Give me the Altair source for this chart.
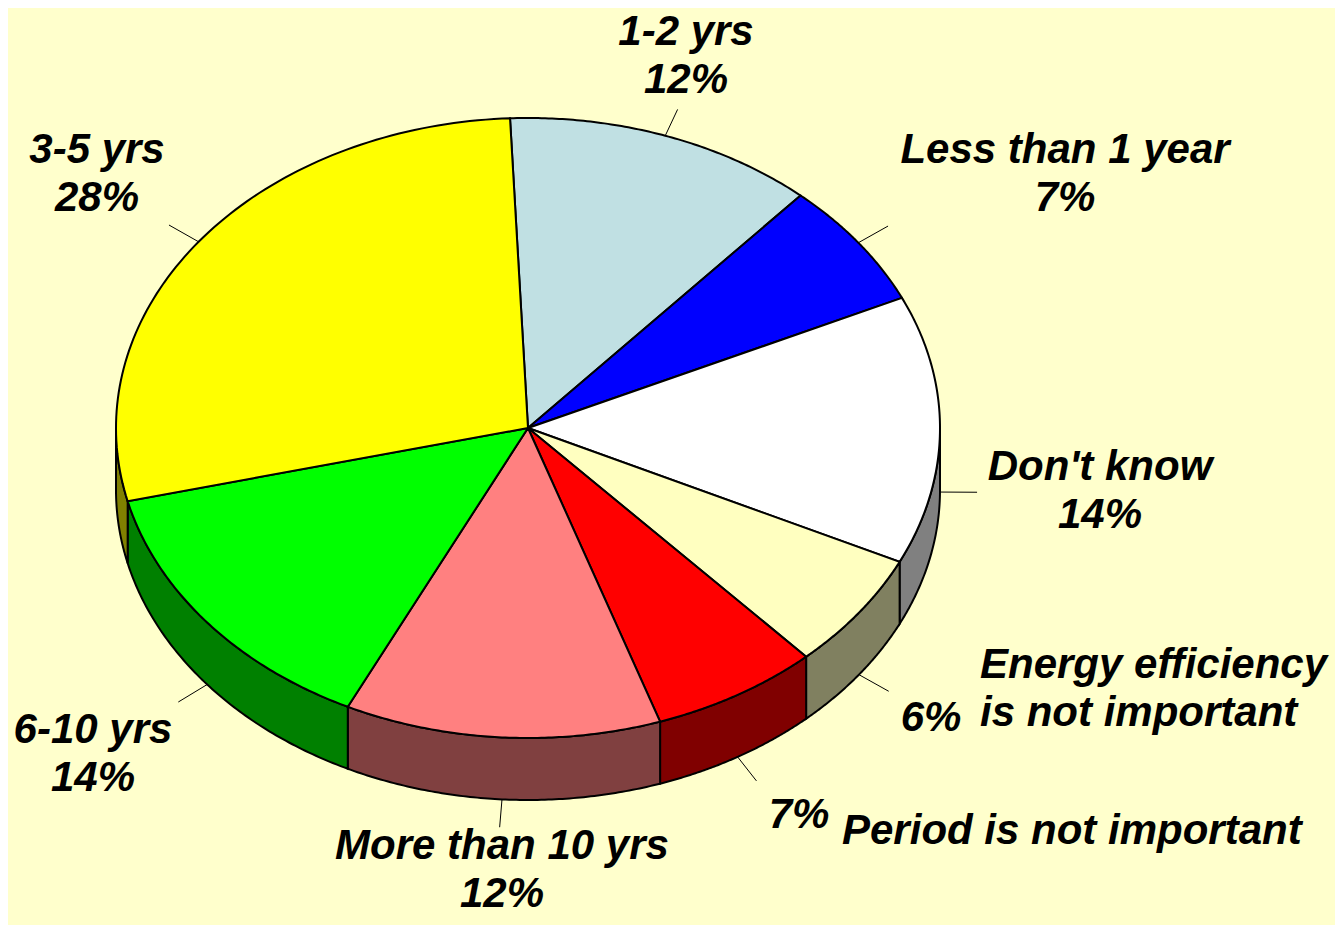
import altair as alt
import pandas as pd

# ---- data ----
labels = ["1-2 yrs", "Less than 1 year", "Don't know", "Energy efficiency is not important",
          "Period is not important", "More than 10 yrs", "6-10 yrs", "3-5 yrs"]
values = [12.2, 6.6, 14.0, 6.1, 6.6, 12.4, 14.0, 28.1]
top_colors = ["#C0E0E3", "#0000FF", "#FFFFFF", "#FFFFC0", "#FF0000", "#FF8080", "#00FF00", "#FFFF00"]
side_colors = ["#637273", "#000080", "#808080", "#808060", "#800000", "#804040", "#008000", "#808000"]

# ---- layout ----
W, H = 1327, 917
CX, CY, RX, RY, DEPTH = 520, 420, 412, 310, 62
START = -2.5
N = 90
FONT = "Liberation Sans"
FS = 42

df = pd.DataFrame({"order": list(range(len(labels))), "label": labels, "value": values,
                   "top": top_colors, "side": side_colors})

xs = alt.Scale(domain=[0, W], nice=False, zero=False)
ys = alt.Scale(domain=[0, H], nice=False, zero=False, reverse=True)

base = (alt.Chart(df)
        .transform_window(cum="sum(value)", frame=[None, 0], sort=[alt.SortField("order")])
        .transform_joinaggregate(total="sum(value)")
        .transform_calculate(t1=f"{START} + 360*(datum.cum - datum.value)/datum.total")
        .transform_calculate(t2=f"{START} + 360*datum.cum/datum.total"))

# side walls (front half only)
side = (base
        .transform_calculate(a="max(datum.t1, 90)")
        .transform_calculate(b="min(datum.t2, 270)")
        .transform_filter("datum.a < datum.b")
        .transform_calculate(idx=f"sequence(0, {2*N+2})")
        .transform_flatten(["idx"])
        .transform_calculate(k=f"datum.idx <= {N} ? datum.idx : {2*N+1} - datum.idx")
        .transform_calculate(ang=f"(datum.a + (datum.b - datum.a)*datum.k/{N})*PI/180")
        .transform_calculate(px=f"{CX} + {RX}*sin(datum.ang)")
        .transform_calculate(py=f"{CY} - {RY}*cos(datum.ang) + (datum.idx > {N} ? {DEPTH} : 0)")
        .mark_line(interpolate="linear-closed", filled=True, stroke="black", strokeWidth=2)
        .encode(x=alt.X("px:Q", scale=xs, axis=None),
                y=alt.Y("py:Q", scale=ys, axis=None),
                order="idx:Q", detail="label:N",
                fill=alt.Fill("side:N", scale=None)))

# top faces
top = (base
       .transform_calculate(idx=f"sequence(0, {N+2})")
       .transform_flatten(["idx"])
       .transform_calculate(ang=f"(datum.t1 + (datum.t2 - datum.t1)*(datum.idx - 1)/{N})*PI/180")
       .transform_calculate(px=f"datum.idx == 0 ? {CX} : {CX} + {RX}*sin(datum.ang)")
       .transform_calculate(py=f"datum.idx == 0 ? {CY} : {CY} - {RY}*cos(datum.ang)")
       .mark_line(interpolate="linear-closed", filled=True, stroke="black", strokeWidth=2)
       .encode(x=alt.X("px:Q", scale=xs, axis=None),
               y=alt.Y("py:Q", scale=ys, axis=None),
               order="idx:Q", detail="label:N",
               fill=alt.Fill("top:N", scale=None)))

# leader lines
lead = (base
        .transform_calculate(mid="(datum.t1 + datum.t2)/2*PI/180")
        .transform_calculate(front="cos(datum.mid) < 0 ? 1 : 0")
        .transform_calculate(ex=f"{RX}*sin(datum.mid)")
        .transform_calculate(ey=f"-{RY}*cos(datum.mid)")
        .transform_calculate(cyy=f"{CY} + datum.front*{DEPTH}")
        .transform_calculate(x1=f"{CX} + datum.ex")
        .transform_calculate(y1="datum.cyy + datum.ey")
        .transform_calculate(x2=f"{CX} + 1.09*datum.ex")
        .transform_calculate(y2="datum.cyy + 1.09*datum.ey")
        .mark_rule(color="black", strokeWidth=1)
        .encode(x=alt.X("x1:Q", scale=xs, axis=None),
                y=alt.Y("y1:Q", scale=ys, axis=None),
                x2="x2:Q", y2="y2:Q"))

# label texts
total = sum(values)
pct = {l: f"{round(100 * v / total)}%" for l, v in zip(labels, values)}
centered = {  # label: (x centre, first-line centre y)
    "1-2 yrs": (678, 24),
    "Less than 1 year": (1057, 142),
    "Don't know": (1092, 459),
    "More than 10 yrs": (494, 838),
    "6-10 yrs": (85, 722),
    "3-5 yrs": (89, 142),
}
rows = []
for l, (x, y) in centered.items():
    rows.append({"t": f"{l}\n{pct[l]}", "x": x, "y": y, "al": "center"})
rows.append({"t": "Energy efficiency\nis not important", "x": 972, "y": 657, "al": "left"})
rows.append({"t": pct["Energy efficiency is not important"], "x": 923, "y": 710, "al": "center"})
rows.append({"t": "Period is not important", "x": 834, "y": 823, "al": "left"})
rows.append({"t": pct["Period is not important"], "x": 791, "y": 807, "al": "center"})
tdf = pd.DataFrame(rows)

def text_layer(al):
    return (alt.Chart(tdf[tdf["al"] == al])
            .mark_text(font=FONT, fontSize=FS, fontWeight="bold", fontStyle="italic",
                       align=al, baseline="middle", lineBreak="\n", lineHeight=48, color="black")
            .encode(x=alt.X("x:Q", scale=xs, axis=None),
                    y=alt.Y("y:Q", scale=ys, axis=None),
                    text="t:N"))

chart = (alt.layer(side, top, lead, text_layer("center"), text_layer("left"))
         .properties(width=W, height=H, padding=0,
                     autosize=alt.AutoSizeParams(type="none"))
         .configure(background="#FFFFCC")
         .configure_view(strokeWidth=0))

chart.save("out.html", embed_options={"renderer": "svg", "actions": False})
